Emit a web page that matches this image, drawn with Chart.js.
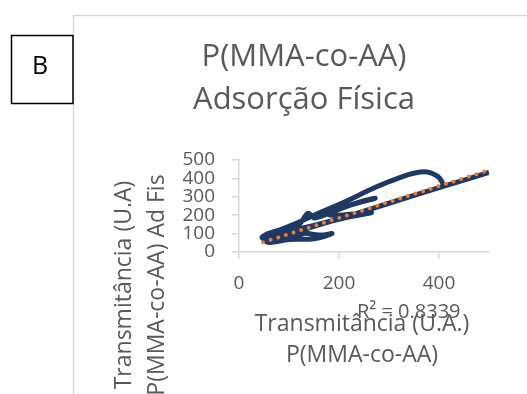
<!DOCTYPE html>
<html>
<head>
<meta charset="utf-8">
<script src="https://cdn.jsdelivr.net/npm/chart.js@4.4.1/dist/chart.umd.min.js"></script>
<style>
  html, body { margin: 0; padding: 0; background: #fff; }
  #wrap { width: 527px; height: 394px; position: relative; }
</style>
</head>
<body>
<div id="wrap"><canvas id="chart" width="527" height="394"></canvas></div>
<script>
// Transmitância P(MMA-co-AA) (x) vs P(MMA-co-AA) Ad Fis (y)
const seriesX = [500, 410, 300, 200, 120, 62, 46, 65, 110, 160, 186, 150, 100, 60, 50, 80, 120, 138, 152, 205, 272, 230, 180, 200, 265, 210, 150, 90, 52, 100, 135, 95, 58, 75, 110, 150, 210, 262, 315, 368, 398, 410];
const seriesY = [432, 358, 265, 180, 115, 65, 80, 100, 112, 92, 100, 72, 68, 52, 70, 110, 150, 210, 185, 240, 292, 262, 205, 200, 215, 185, 145, 110, 92, 128, 108, 85, 78, 112, 150, 200, 270, 338, 398, 436, 410, 360];

// linear trendline (dotted)
const trendX = [48, 500];
const trendY = [53, 445];
const rSquared = '0.8339';

const xTicks = [0, 200, 400];
const yTicks = [0, 100, 200, 300, 400, 500];

const gray = '#595959';
const axisGray = '#d9d9d9';
const fontFam = '"Open Sans", sans-serif';

const toPoints = (xs, ys) => xs.map((x, i) => ({ x: x, y: ys[i] }));

const decor = {
    id: 'decor',
    beforeDraw(chart) {
        const ctx = chart.ctx;
        ctx.save();
        ctx.fillStyle = '#fff';
        ctx.fillRect(0, 0, chart.width, chart.height);
        // chart frame
        ctx.strokeStyle = axisGray;
        ctx.lineWidth = 1.5;
        ctx.strokeRect(73.5, 15.5, 470, 400);
        // "B" label box
        ctx.strokeStyle = '#000';
        ctx.lineWidth = 1.5;
        ctx.strokeRect(11.5, 35.5, 61.5, 68);
        ctx.fillStyle = '#000';
        ctx.font = '25px ' + fontFam;
        ctx.textAlign = 'center';
        ctx.textBaseline = 'middle';
        ctx.fillText('B', 40, 67);
        ctx.restore();
    },
    afterDraw(chart) {
        const ctx = chart.ctx;
        ctx.save();
        ctx.fillStyle = gray;
        ctx.textAlign = 'center';
        ctx.textBaseline = 'middle';
        // title
        ctx.font = '31px ' + fontFam;
        ctx.fillText('P(MMA-co-AA)', 304, 57);
        ctx.fillText('Adsorção Física', 304, 100);
        // x axis title
        ctx.font = '23px ' + fontFam;
        ctx.fillText('Transmitância (U.A.)', 362, 324);
        ctx.fillText('P(MMA-co-AA)', 362, 355);
        // y axis title
        ctx.save();
        ctx.translate(124, 285);
        ctx.rotate(-Math.PI / 2);
        ctx.fillText('Transmitância (U.A)', 0, 0);
        ctx.fillText('P(MMA-co-AA) Ad Fis', 0, 33);
        ctx.restore();
        // R squared label
        ctx.font = '20px ' + fontFam;
        ctx.textAlign = 'left';
        ctx.fillText('R² = ' + rSquared, 357, 312);
        ctx.restore();
    }
};

new Chart(document.getElementById('chart').getContext('2d'), {
    type: 'scatter',
    data: {
        datasets: [
            {
                label: 'Linear',
                data: toPoints(trendX, trendY),
                showLine: true,
                borderColor: '#ED7D31',
                borderWidth: 4,
                borderDash: [0, 8],
                borderCapStyle: 'round',
                pointRadius: 0,
                tension: 0
            },
            {
                label: 'P(MMA-co-AA) Ad Fis',
                data: toPoints(seriesX, seriesY),
                showLine: true,
                borderColor: '#203864',
                borderWidth: 5,
                pointRadius: 0,
                tension: 0.4
            }
        ]
    },
    options: {
        responsive: false,
        animation: false,
        devicePixelRatio: 1,
        layout: { padding: { left: 0, top: 160, right: 38, bottom: 0 } },
        plugins: {
            legend: { display: false },
            title: { display: false },
            tooltip: { enabled: false }
        },
        scales: {
            x: {
                type: 'linear',
                min: 0,
                max: 500,
                afterBuildTicks: (s) => { s.ticks = xTicks.map(v => ({ value: v })); },
                afterFit: (s) => { s.height = 142; },
                ticks: {
                    color: gray,
                    font: { family: fontFam, size: 19 },
                    padding: 13,
                    maxRotation: 0
                },
                grid: {
                    drawOnChartArea: false,
                    drawTicks: true,
                    tickLength: 7,
                    color: axisGray,
                    lineWidth: 1.5
                },
                border: { color: axisGray, width: 1.5 }
            },
            y: {
                type: 'linear',
                min: 0,
                max: 500,
                afterBuildTicks: (s) => { s.ticks = yTicks.map(v => ({ value: v })); },
                afterFit: (s) => { s.width = 239; },
                ticks: {
                    color: gray,
                    font: { family: fontFam, size: 19 },
                    padding: 17,
                    autoSkip: false
                },
                grid: {
                    drawOnChartArea: false,
                    drawTicks: true,
                    tickLength: 7,
                    color: axisGray,
                    lineWidth: 1.5
                },
                border: { color: axisGray, width: 1.5 }
            }
        }
    },
    plugins: [decor]
});
</script>
</body>
</html>
